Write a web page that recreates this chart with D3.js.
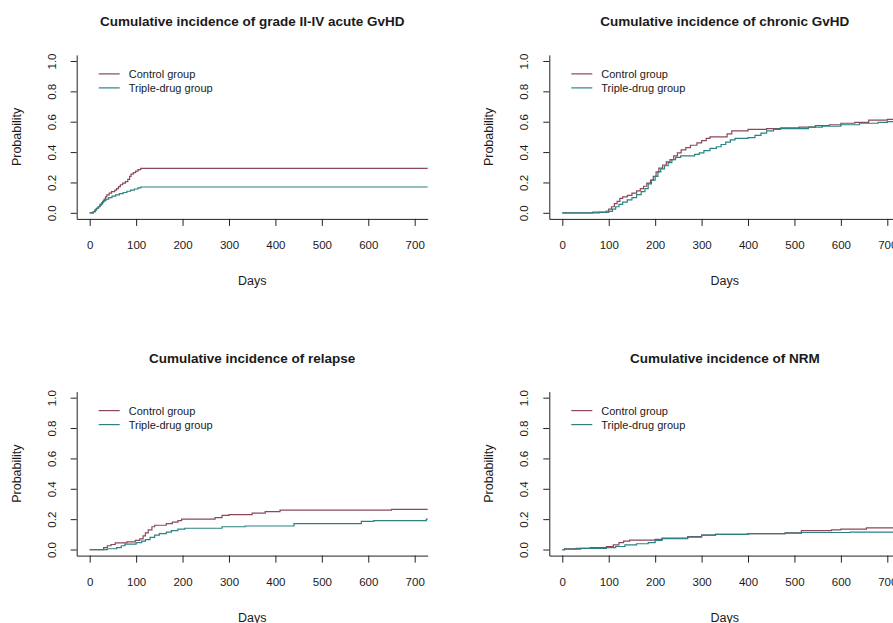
<!DOCTYPE html>
<html lang="en">
<head>
<meta charset="UTF-8">
<title>Cumulative incidence</title>
<script src="https://cdn.jsdelivr.net/npm/d3@7"></script>
<style>
  body { margin: 0; background: #fff; }
  text { font-family: "Liberation Sans", Arial, sans-serif; fill: #1a1a1a; }
</style>
</head>
<body>
<script>
  // tick labels / categories
  const xTicks = [0, 100, 200, 300, 400, 500, 600, 700];
  const yTicks = [0, 0.2, 0.4, 0.6, 0.8, 1.0];
  const groups = ["Control group", "Triple-drug group"];
  const titles = [
    "Cumulative incidence of grade II-IV acute GvHD",
    "Cumulative incidence of chronic GvHD",
    "Cumulative incidence of relapse",
    "Cumulative incidence of NRM"
  ];

  // step curves, [day, probability]
  const agvhdControl = [[0,0],[8,0.007],[12,0.02],[15,0.03],[19,0.04],[22,0.05],[25,0.06],[28,0.075],[31,0.09],[34,0.105],[37,0.118],[42,0.13],[47,0.14],[54,0.15],[58,0.16],[62,0.172],[66,0.185],[71,0.195],[77,0.205],[82,0.22],[86,0.24],[89,0.255],[94,0.265],[99,0.275],[104,0.285],[110,0.293]];
  const agvhdTriple = [[0,0],[7,0.007],[11,0.018],[14,0.03],[18,0.04],[22,0.055],[26,0.068],[30,0.08],[35,0.09],[41,0.1],[48,0.11],[56,0.118],[64,0.126],[72,0.134],[80,0.142],[88,0.15],[96,0.157],[104,0.164],[110,0.17]];

  const cgvhdControl = [[0,0],[66,0.004],[95,0.012],[100,0.025],[106,0.04],[112,0.06],[118,0.075],[124,0.095],[130,0.105],[140,0.115],[150,0.13],[160,0.145],[168,0.16],[175,0.175],[182,0.195],[190,0.215],[196,0.24],[202,0.27],[208,0.295],[216,0.315],[224,0.335],[232,0.35],[240,0.375],[248,0.395],[256,0.415],[266,0.43],[276,0.445],[290,0.46],[300,0.475],[310,0.49],[318,0.5],[355,0.52],[365,0.54],[400,0.55],[440,0.555],[470,0.56],[510,0.565],[545,0.575],[575,0.58],[600,0.59],[630,0.595],[660,0.61],[700,0.615]];
  const cgvhdTriple = [[0,0],[80,0.003],[100,0.01],[108,0.025],[115,0.04],[122,0.055],[130,0.07],[140,0.085],[150,0.1],[160,0.12],[170,0.14],[178,0.16],[185,0.19],[192,0.215],[200,0.24],[206,0.27],[212,0.29],[220,0.31],[228,0.33],[236,0.35],[244,0.365],[255,0.375],[285,0.385],[295,0.395],[305,0.41],[318,0.425],[332,0.435],[342,0.45],[352,0.465],[362,0.48],[372,0.49],[400,0.495],[415,0.51],[428,0.525],[440,0.54],[455,0.55],[470,0.555],[530,0.565],[560,0.57],[600,0.58],[640,0.59],[680,0.595],[700,0.6]];

  const relapseControl = [[0,0],[30,0.012],[38,0.025],[46,0.033],[55,0.044],[80,0.05],[98,0.06],[108,0.07],[115,0.09],[120,0.11],[126,0.13],[134,0.15],[140,0.16],[165,0.17],[178,0.18],[190,0.19],[198,0.2],[270,0.21],[285,0.225],[300,0.23],[350,0.24],[378,0.25],[410,0.26],[650,0.265]];
  const relapseTriple = [[0,0],[38,0.005],[58,0.012],[68,0.025],[76,0.035],[100,0.045],[112,0.055],[120,0.065],[130,0.08],[140,0.095],[150,0.105],[165,0.115],[176,0.125],[190,0.135],[205,0.14],[285,0.15],[335,0.155],[440,0.17],[585,0.185],[612,0.19],[725,0.2]];

  const nrmControl = [[0,0],[5,0.004],[30,0.008],[60,0.012],[95,0.02],[110,0.03],[122,0.045],[132,0.055],[145,0.062],[200,0.067],[215,0.075],[270,0.085],[300,0.095],[330,0.1],[400,0.105],[480,0.11],[515,0.125],[580,0.13],[600,0.135],[655,0.142]];
  const nrmTriple = [[0,0],[5,0.003],[40,0.008],[95,0.012],[115,0.02],[135,0.03],[160,0.038],[185,0.045],[200,0.06],[215,0.072],[270,0.082],[300,0.095],[330,0.1],[400,0.105],[480,0.108],[515,0.112],[620,0.115]];

  const colors = ["#8c4858", "#2a8282"];
  const END_DAY = 730;

  const panels = [
    { title: titles[0], series: [agvhdControl, agvhdTriple] },
    { title: titles[1], series: [cgvhdControl, cgvhdTriple] },
    { title: titles[2], series: [relapseControl, relapseTriple] },
    { title: titles[3], series: [nrmControl, nrmTriple] }
  ];

  const W = 893, H = 623;
  const plotW = 351, plotH = 164;
  const colLeft = [76.7, 549.3];
  const rowTop = [54.9, 391.6];

  const svg = d3.select("body").append("svg")
    .attr("width", W)
    .attr("height", H);

  // R style padding: 4% on each side
  const x = d3.scaleLinear().domain([-28, 728]).range([0, plotW]);
  const y = d3.scaleLinear().domain([-0.04, 1.04]).range([plotH, 0]);

  const line = d3.line()
    .x(d => x(d[0]))
    .y(d => y(d[1]))
    .curve(d3.curveStepAfter);

  panels.forEach((p, i) => {
    const left = colLeft[i % 2], top = rowTop[Math.floor(i / 2)];
    const g = svg.append("g").attr("transform", `translate(${left},${top})`);

    g.append("clipPath").attr("id", "clip" + i)
      .append("rect").attr("width", plotW).attr("height", plotH);

    // title
    g.append("text")
      .attr("x", plotW / 2)
      .attr("y", -33)
      .attr("text-anchor", "middle")
      .attr("dominant-baseline", "central")
      .style("font-size", "13.5px")
      .style("font-weight", "bold")
      .text(p.title);

    // curves
    p.series.forEach((s, k) => {
      const pts = s.concat([[END_DAY, s[s.length - 1][1]]]);
      g.append("path")
        .attr("clip-path", `url(#clip${i})`)
        .attr("d", line(pts))
        .attr("fill", "none")
        .attr("stroke", colors[k])
        .attr("stroke-width", 1.2);
    });

    // x axis
    const xa = g.append("g")
      .attr("transform", `translate(0,${plotH})`)
      .call(d3.axisBottom(x).tickValues(xTicks).tickSize(7).tickSizeOuter(0).tickFormat(d3.format("d")));
    xa.selectAll("text").attr("y", 22).style("font-size", "11.5px").attr("fill", "#1a1a1a");

    // y axis, labels rotated like base R
    const ya = g.append("g")
      .call(d3.axisLeft(y).tickValues(yTicks).tickSize(6).tickSizeOuter(0).tickFormat(d3.format(".1f")));
    ya.selectAll("text")
      .attr("x", null).attr("dy", null)
      .attr("text-anchor", "middle")
      .attr("dominant-baseline", "central")
      .attr("transform", "translate(-25,0) rotate(-90)")
      .style("font-size", "11.5px")
      .attr("fill", "#1a1a1a");

    g.selectAll(".domain, .tick line").attr("stroke", "#222");

    // axis titles
    g.append("text")
      .attr("x", x(350))
      .attr("y", plotH + 62)
      .attr("text-anchor", "middle")
      .attr("dominant-baseline", "central")
      .style("font-size", "12.5px")
      .text("Days");

    g.append("text")
      .attr("transform", `translate(-60,${plotH / 2}) rotate(-90)`)
      .attr("text-anchor", "middle")
      .attr("dominant-baseline", "central")
      .style("font-size", "12.5px")
      .text("Probability");

    // legend
    const lg = g.append("g").attr("transform", "translate(22,19)");
    groups.forEach((name, k) => {
      lg.append("line")
        .attr("x1", 0).attr("x2", 21)
        .attr("y1", k * 14).attr("y2", k * 14)
        .attr("stroke", colors[k])
        .attr("stroke-width", 1.2);
      lg.append("text")
        .attr("x", 30).attr("y", k * 14)
        .attr("dominant-baseline", "central")
        .style("font-size", "11px")
        .text(name);
    });
  });
</script>
</body>
</html>
